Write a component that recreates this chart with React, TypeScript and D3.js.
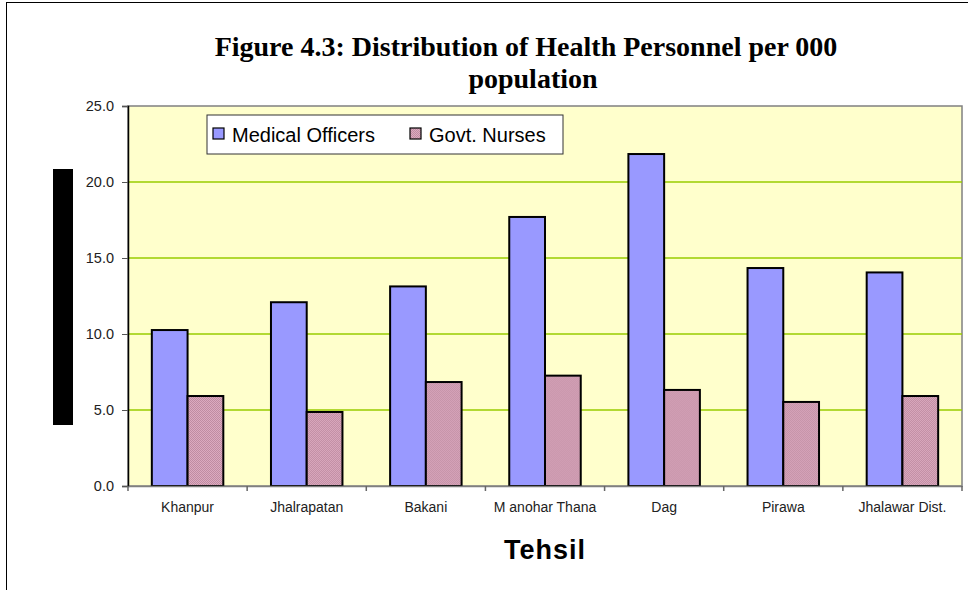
import React, { useEffect, useRef } from 'react';
import * as d3 from 'd3';

const categories = ['Khanpur', 'Jhalrapatan', 'Bakani', 'M anohar Thana', 'Dag', 'Pirawa', 'Jhalawar Dist.'];
const medicalOfficers = [10.26, 12.09, 13.13, 17.7, 21.84, 14.34, 14.05];
const govtNurses = [5.92, 4.87, 6.84, 7.26, 6.32, 5.53, 5.92];
const seriesNames = ['Medical Officers', 'Govt. Nurses'];
const yTicks = [0, 5, 10, 15, 20, 25];

const App = () => {
  const svgRef = useRef<SVGSVGElement>(null);

  useEffect(() => {
    const svg = d3.select(svgRef.current);
    svg.selectAll('*').remove();

    const margin = { top: 106, left: 128, right: 6, bottom: 104 };
    const width = 968 - margin.left - margin.right;
    const height = 590 - margin.top - margin.bottom;
    const sans = 'Liberation Sans, Arial, sans-serif';

    // checkered fill for the nurses series
    const defs = svg.append('defs');
    const pat = defs.append('pattern')
      .attr('id', 'nurse')
      .attr('width', 2)
      .attr('height', 2)
      .attr('patternUnits', 'userSpaceOnUse');
    pat.append('rect').attr('width', 2).attr('height', 2).attr('fill', '#dcaabf');
    pat.append('rect').attr('width', 1).attr('height', 1).attr('fill', '#bf8ca2');
    pat.append('rect').attr('x', 1).attr('y', 1).attr('width', 1).attr('height', 1).attr('fill', '#bf8ca2');

    // outer chart border
    svg.append('rect')
      .attr('x', 6.5).attr('y', 2.5)
      .attr('width', 980).attr('height', 600)
      .attr('fill', 'white').attr('stroke', 'black').attr('stroke-width', 1);

    // title
    const title = svg.append('text')
      .attr('text-anchor', 'middle')
      .attr('font-family', 'Liberation Serif, Times New Roman, serif')
      .attr('font-weight', 'bold')
      .attr('font-size', 28);
    title.append('tspan').attr('x', 526).attr('y', 56).text('Figure 4.3: Distribution of Health Personnel per 000');
    title.append('tspan').attr('x', 533).attr('y', 88).text('population');

    const g = svg.append('g').attr('transform', `translate(${margin.left},${margin.top})`);

    const x0 = d3.scaleBand().domain(categories).range([0, width]).paddingInner(0).paddingOuter(0);
    const x1 = d3.scaleBand().domain(seriesNames).range([x0.bandwidth() * 0.2, x0.bandwidth() * 0.8]);
    const y = d3.scaleLinear().domain([0, 25]).range([height, 0]);

    g.append('rect')
      .attr('width', width).attr('height', height)
      .attr('fill', '#ffffcc').attr('stroke', '#808080').attr('stroke-width', 1.5);

    // gridlines
    g.selectAll('.grid')
      .data(yTicks.filter(t => t > 0 && t < 25))
      .enter()
      .append('line')
      .attr('x1', 0).attr('x2', width)
      .attr('y1', d => y(d)).attr('y2', d => y(d))
      .attr('stroke', '#99cc00').attr('stroke-width', 1.5);

    // bars
    const rows = categories.map((c, i) => ({ c, vals: [medicalOfficers[i], govtNurses[i]] }));
    const grp = g.selectAll('.grp').data(rows).enter().append('g')
      .attr('transform', d => `translate(${x0(d.c)},0)`);
    grp.selectAll('rect')
      .data(d => d.vals.map((v, k) => ({ v, k })))
      .enter()
      .append('rect')
      .attr('x', d => x1(seriesNames[d.k]) as number)
      .attr('width', x1.bandwidth())
      .attr('y', d => y(d.v))
      .attr('height', d => y(0) - y(d.v))
      .attr('fill', d => (d.k === 0 ? '#9999ff' : 'url(#nurse)'))
      .attr('stroke', 'black')
      .attr('stroke-width', 2);

    // y axis
    const yAxis = g.append('g').call(d3.axisLeft(y).tickValues(yTicks).tickSize(6).tickPadding(8).tickFormat(d3.format('.1f')));
    yAxis.select('.domain').attr('stroke', 'black').attr('stroke-width', 1.5);
    yAxis.selectAll('.tick line').attr('stroke', '#555');
    yAxis.selectAll('text')
      .attr('font-family', sans)
      .attr('font-size', 14.5)
      .attr('fill', '#222');

    // x axis
    const xAxis = g.append('g').attr('transform', `translate(0,${height})`)
      .call(d3.axisBottom(x0).tickSize(0).tickPadding(16));
    xAxis.select('.domain').attr('stroke', '#808080').attr('stroke-width', 1.5);
    xAxis.selectAll('text')
      .attr('font-family', sans)
      .attr('font-size', 14)
      .attr('fill', '#222');
    g.selectAll('.xtick')
      .data(d3.range(categories.length + 1))
      .enter()
      .append('line')
      .attr('x1', d => d * x0.step()).attr('x2', d => d * x0.step())
      .attr('y1', height).attr('y2', height + 5)
      .attr('stroke', '#666').attr('stroke-width', 1.5);

    svg.append('text')
      .attr('x', margin.left + width / 2)
      .attr('y', 559)
      .attr('text-anchor', 'middle')
      .attr('font-family', sans)
      .attr('font-weight', 'bold')
      .attr('font-size', 27)
      .attr('letter-spacing', 1)
      .text('Tehsil');

    // y-axis title rendered as a black block in the source
    svg.append('rect')
      .attr('x', 53).attr('y', 169).attr('width', 20).attr('height', 256)
      .attr('fill', 'black');

    // legend
    const lg = svg.append('g').attr('transform', 'translate(207,115)');
    lg.append('rect').attr('width', 356).attr('height', 39)
      .attr('fill', 'white').attr('stroke', '#333').attr('stroke-width', 1);
    const items = [
      { name: seriesNames[0], fill: '#9999ff', x: 6 },
      { name: seriesNames[1], fill: 'url(#nurse)', x: 203 },
    ];
    items.forEach(it => {
      lg.append('rect').attr('x', it.x).attr('y', 13).attr('width', 11).attr('height', 11)
        .attr('fill', it.fill).attr('stroke', 'black').attr('stroke-width', 1.2);
      lg.append('text').attr('x', it.x + 19).attr('y', 27)
        .attr('font-family', sans)
        .attr('font-size', 20)
        .text(it.name);
    });
  }, []);

  return (
    <svg ref={svgRef} width="968" height="590" style={{ position: 'absolute', left: 0, top: 0 }} />
  );
};

export default App;
